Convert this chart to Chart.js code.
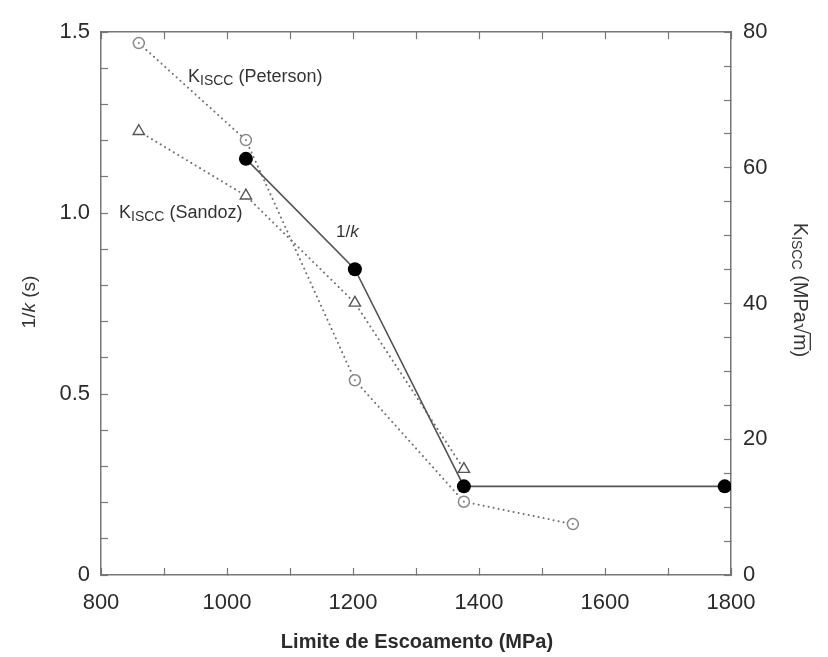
<!DOCTYPE html>
<html>
<head>
<meta charset="utf-8">
<script src="https://cdn.jsdelivr.net/npm/chart.js@4.4.1/dist/chart.umd.min.js"></script>
<style>
  html, body { margin: 0; padding: 0; background: #fff; }
  #wrap { width: 828px; height: 657px; }
</style>
</head>
<body>
<div id="wrap"><canvas id="c" width="828" height="657"></canvas></div>
<script>
// Yield strength (MPa) and values
const xInvK = [1030, 1203, 1376, 1790];
const invK = [1.15, 0.845, 0.245, 0.245];           // 1/k (s), left axis

const xPeterson = [860, 1030, 1203, 1376, 1549];
const kPeterson = [78.4, 64.1, 28.7, 10.8, 7.5];    // KISCC (MPa√m), right axis

const xSandoz = [860, 1030, 1203, 1376];
const kSandoz = [65.4, 55.9, 40.1, 15.6];           // KISCC (MPa√m), right axis

const xTickLabels = [800, 1000, 1200, 1400, 1600, 1800];
const leftTickLabels = [0, 0.5, 1.0, 1.5];
const rightTickLabels = [0, 20, 40, 60, 80];

const FONT = "'Liberation Sans', Arial, Helvetica, sans-serif";
Chart.defaults.font.family = FONT;

const toPts = (xs, ys) => xs.map((x, i) => ({x: x, y: ys[i]}));

const AXIS = '#777';
const TXT = '#2b2b2b';

const textPlugin = {
  id: 'texts',
  afterDraw(chart) {
    const ctx = chart.ctx;
    ctx.save();
    ctx.fillStyle = TXT;
    ctx.textBaseline = 'alphabetic';

    // X axis title
    ctx.font = "bold 20px " + FONT;
    ctx.textAlign = 'center';
    ctx.fillText('Limite de Escoamento (MPa)', 417, 648);

    // helper to draw mixed runs
    function runs(parts, x, y, align) {
      let total = 0;
      parts.forEach(p => { ctx.font = p.f; p.w = ctx.measureText(p.t).width; total += p.w; });
      let cx = align === 'center' ? x - total / 2 : x;
      ctx.textAlign = 'left';
      parts.forEach(p => { ctx.font = p.f; ctx.fillText(p.t, cx, y + (p.dy || 0)); p.x = cx; cx += p.w; });
      return parts;
    }

    // Left axis title (rotated)
    ctx.save();
    ctx.translate(35, 302);
    ctx.rotate(-Math.PI / 2);
    ctx.fillStyle = '#333';
    runs([
      {t: '1/', f: "19px " + FONT},
      {t: 'k', f: "italic 19px " + FONT},
      {t: ' (s)', f: "19px " + FONT}
    ], 0, 0, 'center');
    ctx.restore();

    // Right axis title (rotated clockwise)
    ctx.save();
    ctx.translate(794, 290);
    ctx.rotate(Math.PI / 2);
    ctx.fillStyle = '#333';
    const rp = runs([
      {t: 'K', f: "20px " + FONT},
      {t: 'ISCC', f: "14px " + FONT, dy: 2},
      {t: ' (MPa\u221A', f: "20px " + FONT},
      {t: 'm', f: "20px " + FONT},
      {t: ')', f: "20px " + FONT}
    ], 0, 0, 'center');
    // overline of the square root
    const m = rp[3];
    ctx.strokeStyle = '#333';
    ctx.lineWidth = 1.3;
    ctx.beginPath();
    ctx.moveTo(m.x - 1, -16.3);
    ctx.lineTo(m.x + m.w, -16.3);
    ctx.stroke();
    ctx.restore();

    // Annotations
    ctx.fillStyle = '#333';
    runs([
      {t: 'K', f: "18px " + FONT},
      {t: 'ISCC', f: "14px " + FONT, dy: 3},
      {t: ' (Peterson)', f: "18px " + FONT}
    ], 188, 82, 'left');
    runs([
      {t: 'K', f: "18px " + FONT},
      {t: 'ISCC', f: "14px " + FONT, dy: 3},
      {t: ' (Sandoz)', f: "18px " + FONT}
    ], 119, 218, 'left');
    runs([
      {t: '1/', f: "17px " + FONT},
      {t: 'k', f: "italic 17px " + FONT}
    ], 336, 237, 'left');

    ctx.restore();
  },
  afterDatasetsDraw(chart) {
    // center dots of the open circles (Peterson)
    const meta = chart.getDatasetMeta(1);
    const ctx = chart.ctx;
    ctx.save();
    ctx.fillStyle = '#888';
    meta.data.forEach(pt => {
      ctx.beginPath();
      ctx.arc(pt.x, pt.y, 1.1, 0, Math.PI * 2);
      ctx.fill();
    });
    ctx.restore();
  }
};

new Chart(document.getElementById('c'), {
  type: 'scatter',
  data: {
    datasets: [
      {
        label: '1/k',
        data: toPts(xInvK, invK),
        yAxisID: 'y',
        showLine: true,
        borderColor: '#555',
        borderWidth: 1.6,
        pointRadius: 7,
        pointBackgroundColor: '#000',
        pointBorderColor: '#000',
        pointBorderWidth: 0
      },
      {
        label: 'KISCC (Peterson)',
        data: toPts(xPeterson, kPeterson),
        yAxisID: 'y2',
        showLine: true,
        borderColor: '#6f6f6f',
        borderWidth: 2,
        borderDash: [0.1, 5],
        borderCapStyle: 'round',
        pointStyle: 'circle',
        pointRadius: 5.5,
        pointBackgroundColor: '#fff',
        pointBorderColor: '#888',
        pointBorderWidth: 1.5
      },
      {
        label: 'KISCC (Sandoz)',
        data: toPts(xSandoz, kSandoz),
        yAxisID: 'y2',
        showLine: true,
        borderColor: '#6f6f6f',
        borderWidth: 2,
        borderDash: [0.1, 5],
        borderCapStyle: 'round',
        pointStyle: 'triangle',
        pointRadius: 6.5,
        pointBackgroundColor: '#fff',
        pointBorderColor: '#555',
        pointBorderWidth: 1.4
      }
    ]
  },
  options: {
    responsive: false,
    animation: false,
    layout: { padding: 0 },
    plugins: {
      legend: { display: false },
      tooltip: { enabled: false }
    },
    scales: {
      x: {
        type: 'linear',
        position: 'bottom',
        min: 800, max: 1800,
        afterFit(s) { s.height = 82; },
        border: { display: true, color: AXIS, width: 1.5 },
        grid: { drawOnChartArea: false, drawTicks: true, tickLength: -7, color: AXIS, tickColor: AXIS, tickWidth: 1.2 },
        ticks: {
          stepSize: 100, autoSkip: false, maxRotation: 0, padding: 22,
          color: TXT, font: { size: 22 },
          callback: v => xTickLabels.includes(Math.round(v)) ? String(Math.round(v)) : ''
        }
      },
      x2: {
        type: 'linear',
        position: 'top',
        min: 800, max: 1800,
        afterFit(s) { s.height = 28; },
        border: { display: true, color: AXIS, width: 1.5 },
        grid: { drawOnChartArea: false, drawTicks: true, tickLength: -7, color: AXIS, tickColor: AXIS, tickWidth: 1.2 },
        ticks: { stepSize: 100, autoSkip: false, display: false }
      },
      y: {
        type: 'linear',
        position: 'left',
        min: 0, max: 1.5,
        afterFit(s) { s.width = 101; },
        border: { display: true, color: AXIS, width: 1.5 },
        grid: { drawOnChartArea: false, drawTicks: true, tickLength: -7, color: AXIS, tickColor: AXIS, tickWidth: 1.2 },
        ticks: {
          stepSize: 0.1, autoSkip: false, padding: 18,
          color: TXT, font: { size: 22 },
          callback: v => {
            const r = Math.round(v * 10) / 10;
            if (!leftTickLabels.some(t => Math.abs(t - r) < 1e-6)) return '';
            return r === 0 ? '0' : r.toFixed(1);
          }
        }
      },
      y2: {
        type: 'linear',
        position: 'right',
        min: 0, max: 80,
        afterFit(s) { s.width = 97; },
        border: { display: true, color: AXIS, width: 1.5 },
        grid: { drawOnChartArea: false, drawTicks: true, tickLength: -7, color: AXIS, tickColor: AXIS, tickWidth: 1.2 },
        ticks: {
          stepSize: 5, autoSkip: false, padding: 19,
          color: TXT, font: { size: 22 },
          callback: v => rightTickLabels.includes(Math.round(v)) ? String(Math.round(v)) : ''
        }
      }
    }
  },
  plugins: [textPlugin]
});
</script>
</body>
</html>
